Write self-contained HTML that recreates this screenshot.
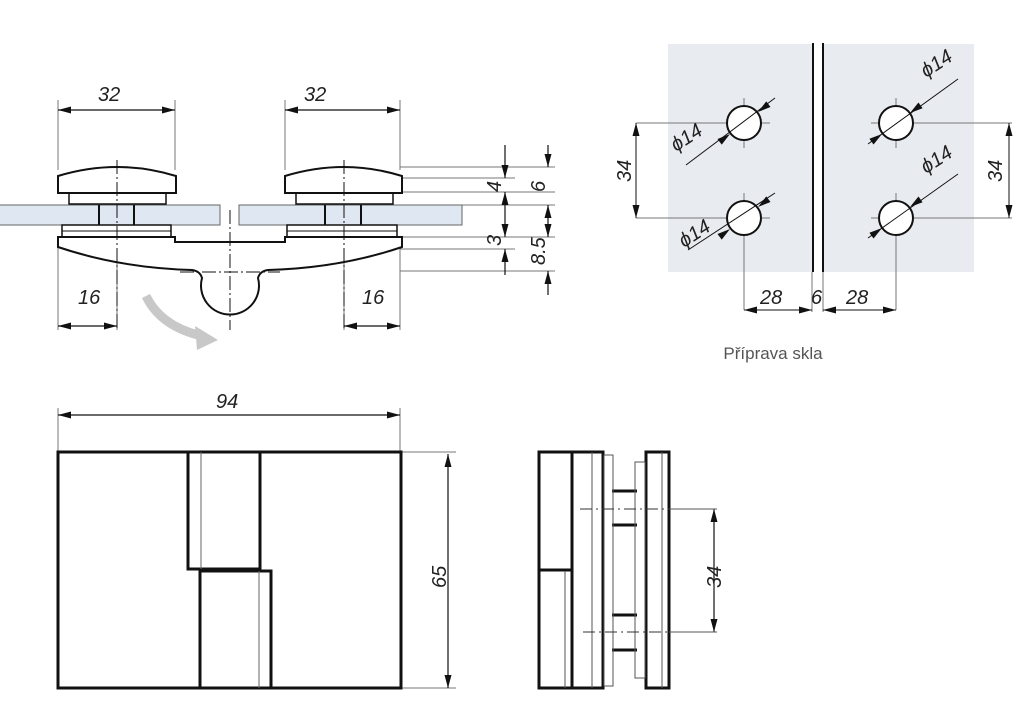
<!DOCTYPE html>
<html><head><meta charset="utf-8"><style>
html,body{margin:0;padding:0;background:#fff;width:1024px;height:701px;overflow:hidden}
svg text{font-family:"Liberation Sans",sans-serif;font-style:italic;font-size:20px;fill:#222}
</style></head><body>
<svg width="1024" height="701" viewBox="0 0 1024 701" xmlns="http://www.w3.org/2000/svg">
<defs>
<path id="h" d="M0 0L-13 -3.5L-13 3.5Z" fill="#111"/>
</defs>
<g fill="none" stroke="#777" stroke-width="1">
<path d="M58 100V170M175 100V170M285 100V170M400 100V170"/>
<path d="M58 245V330M117 230V330M344 230V330M400 245V330"/>
<path d="M400 167H555M400 178H515M400 192H555M440 205H555M400 237H555M400 249H515M400 271H555"/>
</g>
<rect x="-2" y="205" width="222" height="20" fill="#dfe8f2" stroke="#666"/>
<rect x="239" y="205" width="223" height="20" fill="#dfe8f2" stroke="#666"/>
<g fill="none" stroke="#111" stroke-width="2">
<path d="M58 193V176Q117 158 176 176V193Z" fill="#fff"/>
<path d="M285 193V176Q344 158 402 176V193Z" fill="#fff"/>
<rect x="69" y="193" width="97" height="11" stroke-width="1.5"/>
<rect x="296" y="193" width="97" height="11" stroke-width="1.5"/>
<path d="M99 205V225M134 205V225M325 205V225M361 205V225"/>
<rect x="62" y="225" width="109" height="12" stroke-width="1.5"/>
<rect x="287" y="225" width="110" height="12" stroke-width="1.5"/>
<path d="M62 231H171M287 231H397" stroke-width="1"/>
<path d="M58 237H175V242H285V237H402V247Q340 268 268 270Q260 271 258 278A29 29 0 1 1 202 278Q200 271 192 270Q120 268 58 247Z" fill="#fff"/>
</g>
<g fill="none" stroke="#111" stroke-width="1" stroke-dasharray="14 3 2 3">
<path d="M117 160V330M344 160V330M230 210V330M180 272H280"/>
</g>
<g stroke="#111" stroke-width="1.2" fill="none">
<path d="M58 110H175M285 110H400M58 326H117M344 326H400"/>
<path d="M505 145V178M505 215V192M548 145V167M548 225V205M505 215V237M505 275V249M548 213V237M548 295V271"/>
</g>
<use href="#h" transform="translate(58,110) rotate(180)"/><use href="#h" transform="translate(175,110)"/>
<use href="#h" transform="translate(285,110) rotate(180)"/><use href="#h" transform="translate(400,110)"/>
<use href="#h" transform="translate(58,326) rotate(180)"/><use href="#h" transform="translate(117,326)"/>
<use href="#h" transform="translate(344,326) rotate(180)"/><use href="#h" transform="translate(400,326)"/>
<use href="#h" transform="translate(505,178) rotate(90)"/><use href="#h" transform="translate(505,192) rotate(-90)"/>
<use href="#h" transform="translate(548,167) rotate(90)"/><use href="#h" transform="translate(548,205) rotate(-90)"/>
<use href="#h" transform="translate(505,237) rotate(90)"/><use href="#h" transform="translate(505,249) rotate(-90)"/>
<use href="#h" transform="translate(548,237) rotate(90)"/><use href="#h" transform="translate(548,271) rotate(-90)"/>
<text x="98" y="101">32</text><text x="304" y="101">32</text>
<text x="78" y="304">16</text><text x="362" y="304">16</text>
<text transform="translate(501,192) rotate(-90)">4</text>
<text transform="translate(545,192) rotate(-90)">6</text>
<text transform="translate(501,246) rotate(-90)">3</text>
<text transform="translate(545,265) rotate(-90)">8.5</text>
<path d="M146 296Q160 325 198 335" stroke="#c8c8c8" stroke-width="9" fill="none"/>
<path d="M195 326L218 340L197 350Z" fill="#c8c8c8"/>

<rect x="668" y="44" width="145" height="228" fill="#e8ebf0"/>
<rect x="824" y="44" width="150" height="228" fill="#e8ebf0"/>
<path d="M813 43V272M823 43V272" stroke="#111" stroke-width="2"/>
<g fill="none" stroke="#777" stroke-width="1">
<path d="M636 123H770M636 218H770M896 123H1012M896 218H1012"/>
<path d="M744 98V148M719 123H769M744 193V310M719 218H769M896 98V148M871 123H921M896 193V310M871 218H921"/>
<path d="M812 272V312M823 272V312"/>
</g>
<g fill="#fff" stroke="#111" stroke-width="2">
<circle cx="744" cy="123" r="17"/><circle cx="744" cy="218" r="17"/>
<circle cx="896" cy="123" r="17"/><circle cx="896" cy="218" r="17"/>
</g>
<g stroke="#111" stroke-width="1" fill="none">
<path d="M686 165L775 98"/><path d="M688 250L775 193"/>
<path d="M868 144L958 79"/><path d="M868 238L958 174"/>
<path d="M636 123V218M1009 123V218M744 310H812M823 310H896"/>
</g>
<use href="#h" transform="translate(730,134) rotate(-37)"/><use href="#h" transform="translate(758,112) rotate(143)"/>
<use href="#h" transform="translate(730,229) rotate(-37)"/><use href="#h" transform="translate(758,207) rotate(143)"/>
<use href="#h" transform="translate(882,134) rotate(-36)"/><use href="#h" transform="translate(910,113) rotate(144)"/>
<use href="#h" transform="translate(882,228) rotate(-36)"/><use href="#h" transform="translate(910,207) rotate(144)"/>
<use href="#h" transform="translate(636,123) rotate(-90)"/><use href="#h" transform="translate(636,218) rotate(90)"/>
<use href="#h" transform="translate(1009,123) rotate(-90)"/><use href="#h" transform="translate(1009,218) rotate(90)"/>
<use href="#h" transform="translate(744,310) rotate(180)"/><use href="#h" transform="translate(812,310)"/>
<use href="#h" transform="translate(823,310) rotate(180)"/><use href="#h" transform="translate(896,310)"/>
<text transform="translate(631,182) rotate(-90)">34</text>
<text transform="translate(1002,182) rotate(-90)">34</text>
<text x="760" y="304">28</text><text x="811" y="304">6</text><text x="846" y="304">28</text>
<text transform="translate(676,152) rotate(-33)">ϕ14</text>
<text transform="translate(684,248) rotate(-33)">ϕ14</text>
<text transform="translate(926,78) rotate(-33)">ϕ14</text>
<text transform="translate(926,174) rotate(-33)">ϕ14</text>
<text x="773" y="359" text-anchor="middle" style="font-style:normal;font-size:17px;fill:#555">Příprava skla</text>

<g fill="none" stroke="#777" stroke-width="1">
<path d="M58 408V452M400 408V452M400 452H456M400 688H456"/>
</g>
<g fill="none" stroke="#111" stroke-width="3">
<rect x="58" y="452" width="343" height="236"/>
<path d="M188 452V569H260V452M200 688V571H271V688"/>
</g>
<path d="M201 452V569M259 571V688" stroke="#666" stroke-width="1"/>
<g stroke="#111" stroke-width="1.2" fill="none">
<path d="M58 415H400M448 454V688M714 509V632"/>
</g>
<use href="#h" transform="translate(58,415) rotate(180)"/><use href="#h" transform="translate(400,415)"/>
<use href="#h" transform="translate(448,454) rotate(-90)"/><use href="#h" transform="translate(448,688) rotate(90)"/>
<use href="#h" transform="translate(714,509) rotate(-90)"/><use href="#h" transform="translate(714,632) rotate(90)"/>
<text x="216" y="408">94</text>
<text transform="translate(446,588) rotate(-90)">65</text>

<g fill="none" stroke="#111" stroke-width="3">
<rect x="539" y="452" width="64" height="236"/>
<path d="M572 452V688M539 570H572"/>
<rect x="646" y="452" width="23" height="236"/>
<path d="M612 491H637M612 525H637M612 615H637M612 650H637"/>
</g>
<g fill="none" stroke="#555" stroke-width="1">
<path d="M565 571V688M592 452V688M662 452V688"/>
<rect x="604" y="455" width="9" height="231"/>
<rect x="635" y="462" width="10" height="216"/>
<path d="M669 509H717M669 632H717"/>
</g>
<path d="M580 509H669M583 632H669" stroke="#333" stroke-width="1" stroke-dasharray="12 4 2 4"/>
<text transform="translate(721,588) rotate(-90)">34</text>
</svg>
</body></html>
